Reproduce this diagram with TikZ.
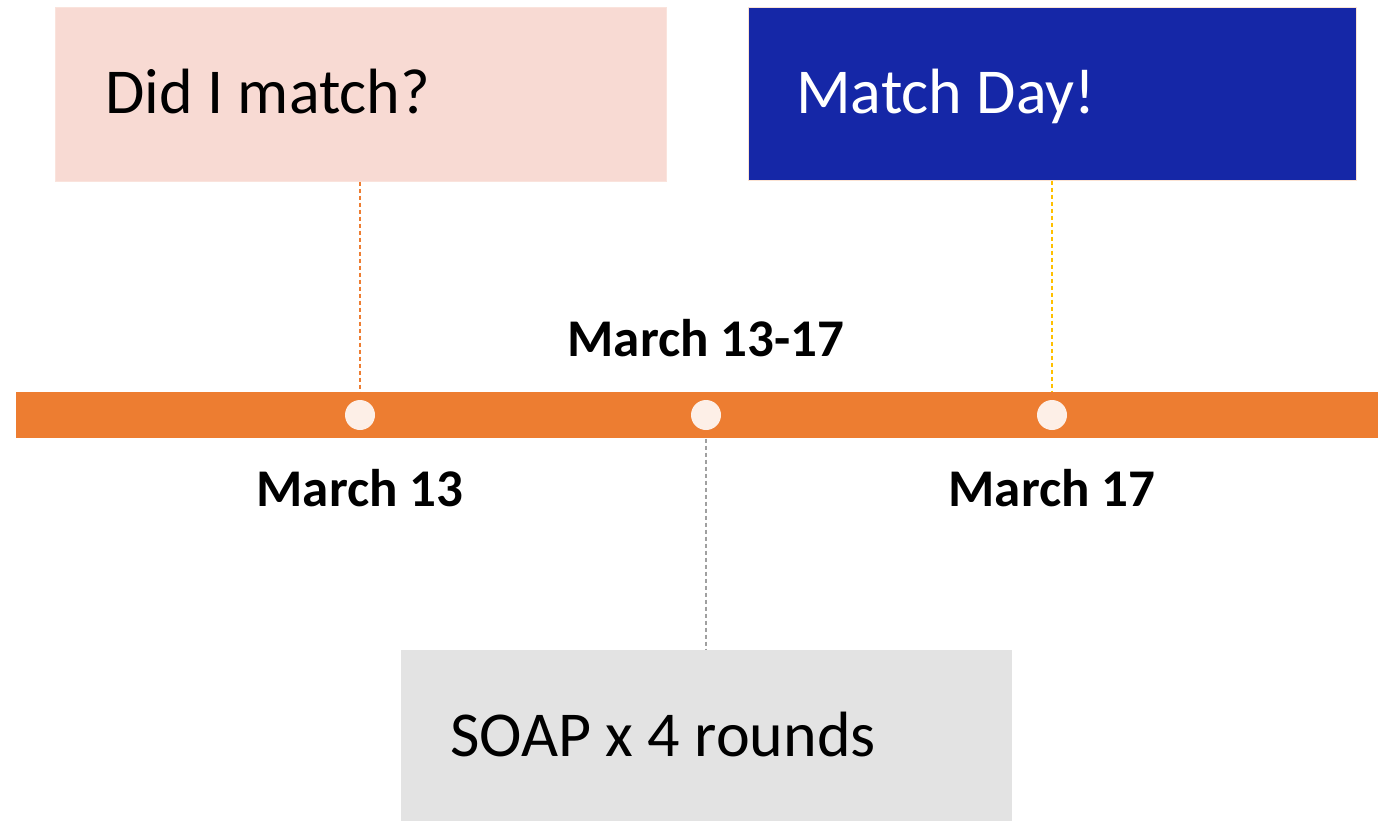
\documentclass[tikz,border=0pt]{standalone}
\usepackage{fontspec}
\setmainfont{Carlito}
\definecolor{pinkfill}{HTML}{F8DAD3}
\definecolor{pinkedge}{HTML}{FAE3DC}
\definecolor{bluefill}{HTML}{1527A7}
\definecolor{blueedge}{HTML}{FBE3D3}
\definecolor{grayfill}{HTML}{E3E3E3}
\definecolor{barorange}{HTML}{ED7D31}
\definecolor{dotfill}{HTML}{FDEFE7}
\definecolor{dashgray}{HTML}{A0A0A0}
\definecolor{dashgold}{HTML}{FFC000}
\tikzset{
  panel/.style={rectangle, inner sep=0pt, line width=1pt},
  dot/.style={circle, fill=dotfill, draw=none, minimum size=30pt, inner sep=0pt},
  link/.style={line width=1.4pt, dash pattern=on 4pt off 3pt},
  bigtext/.style={anchor=base west, inner sep=0pt, font=\fontsize{64}{72}\selectfont},
  datetext/.style={anchor=base, inner sep=0pt, font=\fontsize{53}{60}\selectfont\bfseries},
}
\begin{document}
\begin{tikzpicture}[x=1pt,y=-1pt]
\useasboundingbox (0,0) rectangle (1378,820);
% boxes
\node[panel, fill=pinkfill, draw=pinkedge, minimum width=611pt, minimum height=174pt] (did) at (360.5,94) {};
\node[panel, fill=bluefill, draw=blueedge, minimum width=608pt, minimum height=173pt] (day) at (1052,93.5) {};
\node[panel, fill=grayfill, draw=none, minimum width=611pt, minimum height=180pt] (soap) at (706.5,740) {};
% bar
\node[panel, fill=barorange, draw=none, minimum width=1362pt, minimum height=46pt] (bar) at (697,415) {};
% dots
\node[dot] (c1) at (360,415) {};
\node[dot] (c2) at (706,415) {};
\node[dot] (c3) at (1052,415) {};
% connectors
\draw[link, draw=barorange] (did.south -| c1) -- (c1 |- bar.north);
\draw[link, draw=dashgold] (day.south -| c3) -- (c3 |- bar.north);
\draw[link, draw=dashgray] (c2 |- bar.south) -- (soap.north -| c2);
% texts
\node[bigtext] (t1) at (105,113) {Did I match?};
\node[bigtext, text=white] (t2) at (796,113) {Match Day!};
\node[bigtext] (t3) at (450,756) {SOAP x 4 rounds};
\node[datetext] (d0) at (706,356) {March 13-17};
\node[datetext] (d1) at (360,506) {March 13};
\node[datetext] (d3) at (1052,506) {March 17};
\end{tikzpicture}
\end{document}
